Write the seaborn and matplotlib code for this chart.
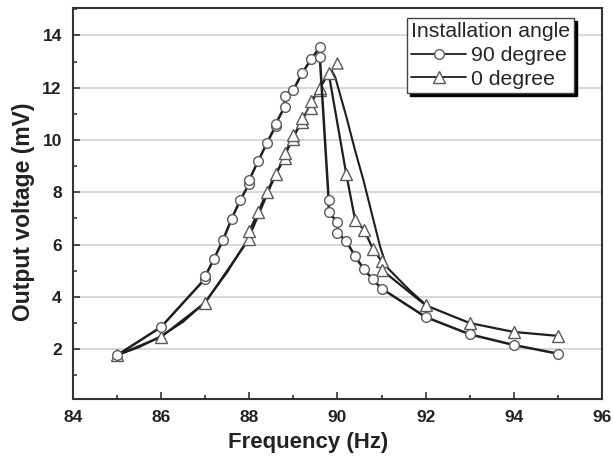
import matplotlib
matplotlib.use("Agg")
import matplotlib.pyplot as plt
from matplotlib.lines import Line2D
from matplotlib.ticker import MultipleLocator
import pandas as pd
import seaborn as sns

# ---- data ----
freq_90 = [85.0, 86.0, 87.0, 87.0, 87.2, 87.4, 87.6, 87.8, 88.0, 88.0, 88.2, 88.4,
           88.6, 88.6, 88.8, 88.8, 89.0, 89.2, 89.4, 89.6, 89.6, 89.8, 89.8, 90.0,
           90.0, 90.2, 90.4, 90.6, 90.8, 91.0, 92.0, 93.0, 94.0, 95.0]
volt_90 = [1.77, 2.85, 4.70, 4.79, 5.46, 6.16, 6.99, 7.72, 8.33, 8.48, 9.19, 9.88,
           10.55, 10.62, 11.26, 11.70, 11.92, 12.56, 13.08, 13.55, 13.17, 7.72, 7.24, 6.86,
           6.44, 6.14, 5.55, 5.06, 4.67, 4.32, 3.23, 2.57, 2.16, 1.83]

freq_0 = [85.0, 86.0, 87.0, 88.0, 88.0, 88.2, 88.4, 88.6, 88.8, 88.8, 89.0, 89.0,
          89.2, 89.2, 89.4, 89.4, 89.6, 89.6, 89.8, 90.2, 90.4, 90.6, 90.8,
          91.0, 91.0, 92.0, 93.0, 94.0, 95.0]
volt_0 = [1.77, 2.47, 3.78, 6.23, 6.51, 7.24, 8.01, 8.71, 9.30, 9.50, 10.05, 10.18,
          10.68, 10.84, 11.23, 11.51, 11.90, 12.00, 12.56, 8.69, 6.95, 6.57, 5.85,
          5.37, 5.04, 3.68, 3.00, 2.66, 2.51]
# unconnected 0 degree point at the top of the peak
extra_freq_0 = [90.0]
extra_volt_0 = [12.95]

# smooth curve drawn for the 0 degree series
fit_freq_0 = [85.0, 85.5, 86.0, 86.5, 87.0, 87.5, 88.0, 88.5, 89.0, 89.4, 89.6,
              89.8, 89.87, 89.95, 90.05, 90.2, 90.4, 90.59, 90.7, 90.78,
              90.97, 91.12, 91.34, 91.64, 91.99]
fit_volt_0 = [1.77, 2.08, 2.50, 3.05, 3.80, 4.95, 6.30, 8.30, 10.10, 11.40, 12.0,
              12.55, 12.66, 12.4, 11.8, 10.9, 9.6, 8.46, 7.72, 7.18,
              5.91, 5.14, 4.76, 4.25, 3.72]

labels = ["90 degree", "0 degree"]
legend_title = "Installation angle"

df90 = pd.DataFrame({"f": freq_90, "v": volt_90})
df0 = pd.DataFrame({"f": freq_0, "v": volt_0})
dex = pd.DataFrame({"f": extra_freq_0, "v": extra_volt_0})
dfit = pd.DataFrame({"f": fit_freq_0, "v": fit_volt_0})

sns.set_theme(style="ticks")
plt.rcParams["font.family"] = ["Liberation Sans", "DejaVu Sans"]

fig = plt.figure(figsize=(6.13, 4.66), dpi=100)
ax = fig.add_axes([0.119, 0.144, 0.863, 0.839])

line_col = "#1e1e1e"
edge_col = "#5a5a5a"
ms = 7.0

sns.lineplot(data=dfit, x="f", y="v", ax=ax, estimator=None, sort=False,
             color=line_col, lw=1.5, zorder=3, legend=False)
sns.lineplot(data=df0, x="f", y="v", ax=ax, estimator=None, sort=False,
             color=line_col, lw=1.6, marker="^", markersize=ms + 1,
             markerfacecolor="white", markeredgecolor=edge_col, markeredgewidth=1.0,
             zorder=4, legend=False)
sns.scatterplot(data=dex, x="f", y="v", ax=ax, marker="^", s=(ms + 1) ** 2,
                facecolor="white", edgecolor=edge_col, linewidth=1.0, zorder=4,
                legend=False)
sns.lineplot(data=df90, x="f", y="v", ax=ax, estimator=None, sort=False,
             color=line_col, lw=1.8, marker="o", markersize=ms,
             markerfacecolor="white", markeredgecolor=edge_col, markeredgewidth=1.0,
             zorder=5, legend=False)

ax.set_xlim(84, 96)
ax.set_ylim(0.1, 15.05)
ax.xaxis.set_major_locator(MultipleLocator(2))
ax.xaxis.set_minor_locator(MultipleLocator(1))
ax.yaxis.set_major_locator(MultipleLocator(2))
ax.yaxis.set_minor_locator(MultipleLocator(1))
ax.tick_params(which="both", direction="in", color="#333333", width=1.2)
ax.tick_params(which="major", length=5, labelsize=12.5, pad=8)
ax.tick_params(which="minor", length=3)
ax.set_yticks([2, 4, 6, 8, 10, 12, 14])
for t in ax.get_xticklabels() + ax.get_yticklabels():
    t.set_fontweight("bold")
    t.set_color("#222222")

ax.grid(axis="y", which="major", color="#d2d2d2", lw=1.2, zorder=0)
ax.set_axisbelow(True)
for s in ax.spines.values():
    s.set_visible(True)
    s.set_color("#333333")
    s.set_linewidth(1.5)

ax.set_xlabel("Frequency (Hz)", fontsize=16, fontweight="bold", color="#222222")
ax.set_ylabel("Output voltage (mV)", fontsize=16.5, fontweight="bold", color="#222222")
ax.xaxis.set_label_coords(0.444, -0.085)
ax.yaxis.set_label_coords(-0.072, 0.478)

handles = [
    Line2D([], [], color=line_col, lw=1.3, marker="o", markersize=ms,
           markerfacecolor="white", markeredgecolor=edge_col),
    Line2D([], [], color=line_col, lw=1.3, marker="^", markersize=ms + 1,
           markerfacecolor="white", markeredgecolor=edge_col),
]
leg = ax.legend(handles, labels, title=legend_title, loc="upper left",
                bbox_to_anchor=(0.631, 0.974), borderaxespad=0,
                fontsize=15.3, title_fontsize=15.3,
                numpoints=1, handlelength=2.6, handletextpad=0.2, borderpad=0.2,
                labelspacing=0.22, fancybox=False, framealpha=1, edgecolor="#444444",
                alignment="left",
                shadow={"facecolor": "black", "edgecolor": "black", "alpha": 1.0})
leg.get_frame().set_linewidth(1.0)

fig.savefig("out.png", dpi=100)
